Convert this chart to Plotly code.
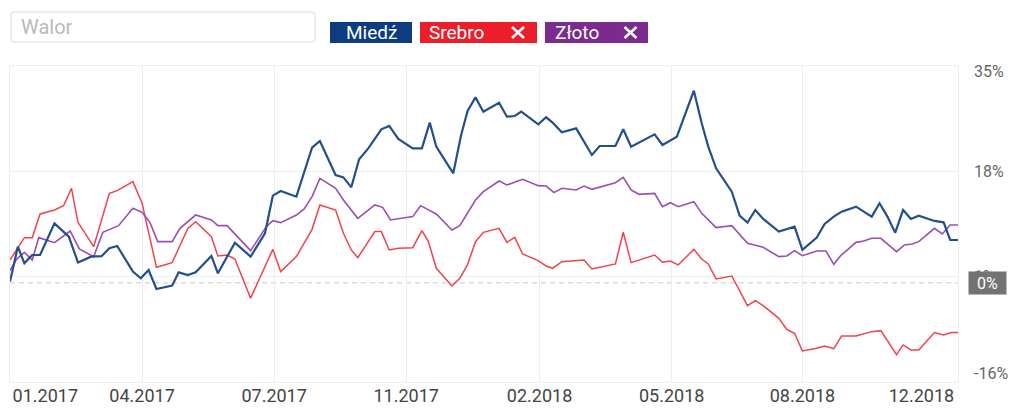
import plotly.graph_objects as go
import pandas as pd

BASE = pd.Timestamp("2017-01-01")
END = pd.Timestamp("2018-12-27")

# ---- data: day offsets from 2017-01-01 and % change ----
miedz_day = [0, 6, 11, 17, 23, 34, 45, 52, 62, 70, 76, 82, 94, 100, 106, 112, 124, 129, 136, 142,
             154, 159, 172, 184, 195, 201, 207, 219, 231, 237, 249, 255, 261, 267, 274, 284, 290, 297, 308, 315,
             321, 326, 339, 345, 350, 356, 362, 374, 380, 386, 391, 404, 410, 415, 422, 433, 445, 451, 463, 469,
             475, 493, 499, 510, 523, 529, 534, 540, 552, 558, 564, 570, 576, 588, 600, 606, 617, 623, 630, 636,
             647, 659, 665, 671, 677, 683, 689, 695, 707, 714, 719, 725]
miedz_val = [0.2, 5.84, 3.15, 4.5, 4.5, 9.6, 7.46, 3.3, 4.23, 4.3, 5.58, 5.95, 1.81, 0.73, 2.08, -0.99, -0.45, 1.7, 1.27, 1.7,
             4.34, 1.54, 6.49, 4.23, 8.0, 14.07, 14.83, 13.91, 21.82, 22.9, 17.41, 17.03, 15.42, 19.94, 21.71, 24.78, 25.32, 23.22, 21.71, 21.71,
             25.86, 21.98, 17.68, 23.87, 27.79, 29.94, 27.63, 29.08, 26.82, 26.93, 27.63, 25.59, 26.72, 25.86, 24.3, 24.94, 20.64, 22.09, 22.09, 24.78,
             21.98, 23.97, 22.25, 23.6, 31.02, 25.75, 21.98, 18.49, 14.72, 10.85, 9.72, 11.76, 10.31, 8.27, 9.07, 5.31, 7.3, 9.5, 10.69, 11.49,
             12.3, 10.69, 12.84, 10.69, 8.1, 11.76, 10.31, 10.85, 9.99, 9.77, 6.92, 6.92]

srebro_day = [0, 11, 17, 23, 34, 41, 47, 52, 64, 76, 82, 94, 101, 112, 124, 130, 136, 142, 154, 159,
              166, 172, 184, 201, 207, 219, 231, 237, 249, 255, 261, 266, 279, 284, 290, 297, 308, 315, 320, 326,
              338, 344, 350, 356, 362, 374, 380, 386, 392, 404, 410, 415, 422, 439, 445, 463, 469, 475, 493, 499,
              505, 511, 523, 529, 534, 540, 552, 564, 570, 576, 588, 594, 600, 606, 617, 623, 630, 636, 647, 659,
              666, 678, 683, 689, 695, 707, 714, 720, 725]
srebro_val = [3.69, 7.3, 7.3, 11.12, 11.76, 12.46, 15.26, 9.77, 5.84, 14.45, 14.88, 16.33, 12.84, 2.51, 3.26, 6.01, 8.8, 9.88, 7.46, 4.34,
              4.5, 3.85, -2.49, 5.41, 1.81, 4.23, 8.64, 12.57, 11.76, 8.0, 5.31, 4.07, 8.27, 8.27, 5.31, 5.58, 5.68, 8.43, 6.65, 2.35,
              -0.5, 0.73, 2.99, 6.65, 8.16, 8.8, 6.54, 7.35, 4.66, 3.58, 2.72, 2.35, 3.42, 3.69, 2.24, 3.05, 8.16, 3.26, 4.5, 3.32,
              3.53, 2.89, 5.41, 3.85, 3.05, 0.63, 1.11, -3.68, -2.87, -3.68, -5.72, -7.5, -8.14, -10.99, -10.56, -10.19, -10.62, -8.57, -8.57, -7.87,
              -7.71, -11.58, -10.02, -10.83, -10.83, -8.03, -8.41, -8.03, -8.03]

zloto_day = [0, 5, 11, 17, 22, 34, 46, 53, 64, 71, 83, 94, 101, 107, 113, 124, 130, 142, 154, 159,
             166, 184, 196, 201, 207, 219, 225, 231, 237, 249, 255, 266, 279, 285, 291, 308, 314, 326, 338, 344,
             356, 362, 374, 380, 392, 404, 410, 416, 422, 433, 439, 445, 463, 469, 475, 481, 493, 499, 505, 511,
             523, 529, 540, 552, 564, 570, 576, 588, 594, 600, 606, 617, 624, 630, 635, 647, 653, 659, 666, 678,
             684, 690, 695, 707, 713, 719, 725]
zloto_val = [1.97, 3.8, 4.93, 3.69, 7.3, 6.49, 8.37, 5.47, 4.23, 8.16, 9.23, 12.03, 11.38, 9.77, 6.65, 6.65, 8.8, 10.95, 10.15, 9.23,
             9.23, 5.2, 9.07, 10.04, 9.72, 10.95, 11.92, 13.91, 16.87, 15.26, 13.38, 10.42, 12.57, 12.19, 10.15, 10.69, 12.46, 11.12, 8.53, 9.23,
             13.38, 14.72, 16.44, 15.8, 16.71, 15.69, 15.63, 14.56, 15.26, 14.99, 15.63, 15.1, 16.17, 17.03, 14.99, 14.29, 14.45, 12.3, 12.94, 12.3,
             13.11, 11.22, 8.91, 9.23, 6.38, 6.01, 5.74, 4.23, 4.34, 5.2, 4.39, 5.15, 5.15, 2.99, 4.34, 6.54, 6.76, 7.19, 7.19, 5.04,
             6.11, 6.28, 6.65, 8.8, 7.89, 9.34, 9.34]

grid_dates = ["2017-01-01", "2017-04-12", "2017-07-22", "2017-10-31", "2018-02-10", "2018-05-22", "2018-08-30"]
label_dates = ["2017-01-28", "2017-04-12", "2017-07-22", "2017-10-31", "2018-02-10", "2018-05-22", "2018-08-30", "2018-11-29"]
label_text = ["01.2017", "04.2017", "07.2017", "11.2017", "02.2018", "05.2018", "08.2018", "12.2018"]

y_grid = [35, 18, 1, -16]
y_label_pos = [34.1, 18, 1, -14.55]
y_label_text = ["35%", "18%", "1%", "-16%"]

series_names = ["Miedź", "Srebro", "Złoto"]
series_colors = ["#0d3c80", "#ee1d2a", "#7b2a8f"]
line_colors = ["#234f8e", "#f2424b", "#9a4db3"]


def to_dates(days):
    return [BASE + pd.Timedelta(days=d) for d in days]


# pixel helpers for the decorative header (plot area: x 10..958, y 66..382)
L, R, T, B = 10, 60, 66, 26
PW, PH = 1018 - L - R, 408 - T - B


def PX(x):
    return (x - L) / PW


def PY(y):
    return (T + PH - y) / PH


FONT = "Roboto"

fig = go.Figure()
fig.add_trace(go.Scatter(x=to_dates(srebro_day), y=srebro_val, mode="lines", name=series_names[1],
                         line=dict(color=line_colors[1], width=1.5), hoverinfo="skip"))
fig.add_trace(go.Scatter(x=to_dates(zloto_day), y=zloto_val, mode="lines", name=series_names[2],
                         line=dict(color=line_colors[2], width=1.6), hoverinfo="skip"))
fig.add_trace(go.Scatter(x=to_dates(miedz_day), y=miedz_val, mode="lines", name=series_names[0],
                         line=dict(color=line_colors[0], width=2.2), hoverinfo="skip"))
fig.add_trace(go.Scatter(x=[None], y=[None], xaxis="x2", yaxis="y2", showlegend=False, hoverinfo="skip"))

grid_col = "#eceff2"
fig.update_layout(
    width=1018, height=408, autosize=False,
    margin=dict(l=L, r=R, t=T, b=B, pad=0, autoexpand=False),
    paper_bgcolor="white", plot_bgcolor="white",
    showlegend=False,
    xaxis=dict(type="date", range=[BASE, END], tickmode="array", tickvals=grid_dates, automargin=False,
               showticklabels=False, showgrid=True, gridcolor=grid_col, gridwidth=1,
               zeroline=False, showline=True, mirror=True, linecolor=grid_col, linewidth=1, ticks=""),
    yaxis=dict(range=[-16, 35], tickmode="array", tickvals=y_grid, showticklabels=False, automargin=False,
               showgrid=True, gridcolor=grid_col, gridwidth=1, zeroline=False,
               showline=True, mirror=True, linecolor=grid_col, linewidth=1, side="right", ticks=""),
    xaxis2=dict(type="date", range=[BASE, END], overlaying="x", anchor="y", side="bottom", automargin=False,
                tickmode="array", tickvals=label_dates, ticktext=label_text, showgrid=False,
                zeroline=False, showline=False, ticks="",
                tickfont=dict(family=FONT, size=18, color="#444444"), ticklabelstandoff=1),
    yaxis2=dict(range=[-16, 35], overlaying="y", anchor="x", side="right", automargin=False,
                tickmode="array", tickvals=y_label_pos, ticktext=y_label_text, showgrid=False,
                zeroline=False, showline=False, ticks="",
                tickfont=dict(family=FONT, size=16, color="#666666"), ticklabelstandoff=15),
)

shapes = []
# zero dashed line
shapes.append(dict(type="line", xref="paper", x0=0, x1=1, yref="y", y0=0, y1=0,
                   line=dict(color="#c8c8c8", width=1, dash="5px,4px"), layer="below"))

# input box with rounded corners
x0, x1, y0, y1, r = 11, 315, 12, 42, 3
path = (f"M {PX(x0 + r)},{PY(y0)} L {PX(x1 - r)},{PY(y0)} Q {PX(x1)},{PY(y0)} {PX(x1)},{PY(y0 + r)} "
        f"L {PX(x1)},{PY(y1 - r)} Q {PX(x1)},{PY(y1)} {PX(x1 - r)},{PY(y1)} "
        f"L {PX(x0 + r)},{PY(y1)} Q {PX(x0)},{PY(y1)} {PX(x0)},{PY(y1 - r)} "
        f"L {PX(x0)},{PY(y0 + r)} Q {PX(x0)},{PY(y0)} {PX(x0 + r)},{PY(y0)} Z")
shapes.append(dict(type="path", xref="paper", yref="paper", path=path,
                   line=dict(color="#dcdcdc", width=1), fillcolor="white"))

# chips
chips = [(330, 412), (420, 537), (545, 648)]
for (cx0, cx1), col in zip(chips, series_colors):
    shapes.append(dict(type="rect", xref="paper", yref="paper", x0=PX(cx0), x1=PX(cx1),
                       y0=PY(43), y1=PY(22), fillcolor=col, line=dict(width=0)))

# close crosses
for cx in (518, 630.5):
    for a, b in ((-6, -5.5), (-6, 5.5)):
        shapes.append(dict(type="line", xref="paper", yref="paper",
                           x0=PX(cx + a), y0=PY(32.5 + b), x1=PX(cx - a), y1=PY(32.5 - b),
                           line=dict(color="white", width=2.6)))

annotations = [
    dict(text="Walor", xref="paper", yref="paper", x=PX(19), y=PY(27), xanchor="left", yanchor="middle",
         showarrow=False, font=dict(family=FONT, size=20, color="#b9b9b9")),
    dict(text=series_names[0], xref="paper", yref="paper", x=PX(371), y=PY(32.5), xanchor="center",
         yanchor="middle", showarrow=False, font=dict(family=FONT, size=19, color="white")),
    dict(text=series_names[1], xref="paper", yref="paper", x=PX(427), y=PY(32.5), xanchor="left",
         yanchor="middle", showarrow=False, font=dict(family=FONT, size=19, color="white")),
    dict(text=series_names[2], xref="paper", yref="paper", x=PX(553), y=PY(32.5), xanchor="left",
         yanchor="middle", showarrow=False, font=dict(family=FONT, size=19, color="white")),
    dict(text="0%", xref="paper", yref="y", x=1, xshift=10, y=0, xanchor="left", yanchor="middle",
         showarrow=False, bgcolor="#737373", width=35, height=20,
         font=dict(family=FONT, size=16, color="white")),
]

fig.update_layout(shapes=shapes, annotations=annotations)
fig.write_html("out.html")
